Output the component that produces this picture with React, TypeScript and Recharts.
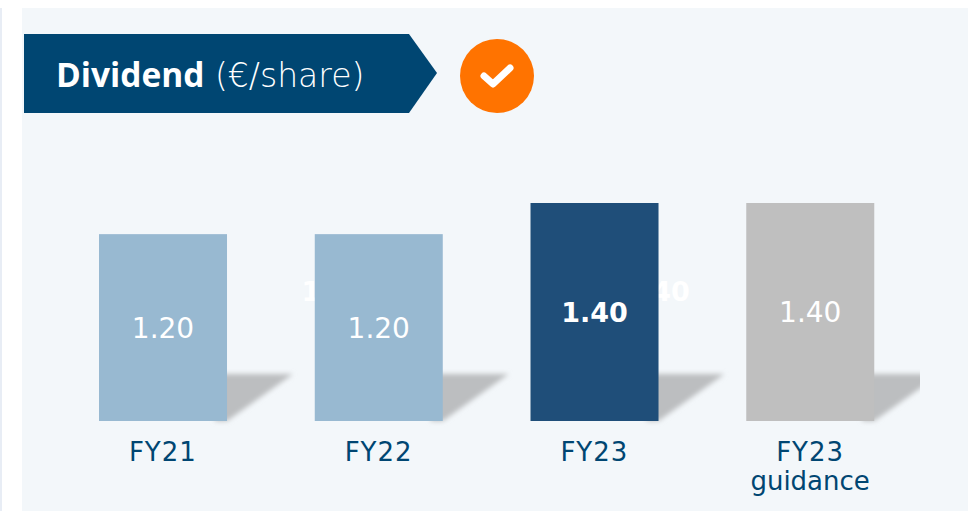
import { Bar, BarChart, Cell, LabelList, XAxis, YAxis } from 'recharts'

const categories = ['FY21', 'FY22', 'FY23', 'FY23 guidance']
const dividend = [1.2, 1.2, 1.4, 1.4]
const barColors = ['#98b9d1', '#98b9d1', '#1f4e79', '#bfbfbf']
const boldBars = [false, false, true, false]
// stray white labels that sit half hidden behind the bars in the source slide
const ghostOffsets = [null, -44, 62, null]

const FONT = '"DejaVu Sans", sans-serif'
const data = categories.map((name, i) => ({ name, dividend: dividend[i] }))

function BarWithShadow(props: any) {
  const { x, y, width, height, fill, index } = props
  const right = x + width
  const bottom = y + height
  const ghost = ghostOffsets[index]
  return (
    <g>
      <g clipPath="url(#shadowClip)">
        <polygon
          points={`${right - 12},${bottom - 47} ${right + 66},${bottom - 47} ${right},${bottom} ${right - 12},${bottom}`}
          fill="#bcbec0"
          filter="url(#shadowBlur)"
        />
      </g>
      {ghost !== null && (
        <text x={x + width / 2 + ghost} y={301} textAnchor="middle" fill="#fff" fontFamily={FONT} fontWeight={700} fontSize={27}>
          {dividend[index].toFixed(2)}
        </text>
      )}
      <rect x={x} y={y} width={width} height={height} fill={fill} />
    </g>
  )
}

function ValueLabel(props: any) {
  const { x, y, width, height, value, index } = props
  const bold = boldBars[index]
  return (
    <text
      x={x + width / 2}
      y={y + height / 2 + 10}
      textAnchor="middle"
      fill="#fff"
      fontFamily={FONT}
      fontWeight={bold ? 700 : 400}
      fontSize={bold ? 27 : 28}
    >
      {Number(value).toFixed(2)}
    </text>
  )
}

function CategoryTick(props: any) {
  const { x, payload } = props
  const parts = String(payload.value).split(' ')
  return (
    <text x={x} textAnchor="middle" fill="#004672" fontFamily={FONT} fontSize={26}>
      {parts.map((part, i) => (
        <tspan key={part} x={x} y={461 + i * 29} letterSpacing={i === 0 ? 1 : 0}>
          {part}
        </tspan>
      ))}
    </text>
  )
}

export default function App() {
  return (
    <div style={{ position: 'absolute', left: 0, top: 0, width: 968, height: 511, overflow: 'hidden', background: '#fff' }}>
      <div style={{ position: 'absolute', left: 0, top: 8, width: 2, height: 503, background: '#e8edf5' }} />
      <div style={{ position: 'absolute', left: 22, top: 8, width: 946, height: 503, background: '#f3f7fa' }} />
      <svg width={968} height={511} style={{ position: 'absolute', left: 0, top: 0 }}>
        <polygon points="24,34 409,34 437,73 409,113 24,113" fill="#004672" />
        <text x={56} y={87} fill="#fff" fontFamily='"Open Sans", sans-serif' fontSize={33.5} fontWeight={700}>
          Dividend
        </text>
        <text x={215} y={87} fill="#fff" fontFamily={FONT} fontSize={33} fontWeight={200}>
          (€/share)
        </text>
        <circle cx={497} cy={76} r={37} fill="#ff7300" />
        <polyline points="484,76 493,84 510,68" fill="none" stroke="#fff" strokeWidth={7} strokeLinecap="round" strokeLinejoin="round" />
      </svg>
      <div style={{ position: 'absolute', left: 0, top: 0 }}>
        <BarChart width={968} height={511} data={data} margin={{ top: 203, right: 50, bottom: 0, left: 55 }} barCategoryGap="20.4%">
          <defs>
            <filter id="shadowBlur" x="-20%" y="-20%" width="140%" height="140%">
              <feGaussianBlur stdDeviation="2.5" />
            </filter>
            <clipPath id="shadowClip">
              <rect x={0} y={0} width={920} height={511} />
            </clipPath>
          </defs>
          <XAxis dataKey="name" axisLine={false} tickLine={false} height={90} interval={0} tick={<CategoryTick />} />
          <YAxis hide domain={[0, 1.4]} />
          <Bar dataKey="dividend" isAnimationActive={false} shape={<BarWithShadow />}>
            {categories.map((name, i) => (
              <Cell key={name} fill={barColors[i]} />
            ))}
            <LabelList dataKey="dividend" content={<ValueLabel />} />
          </Bar>
        </BarChart>
      </div>
    </div>
  )
}
